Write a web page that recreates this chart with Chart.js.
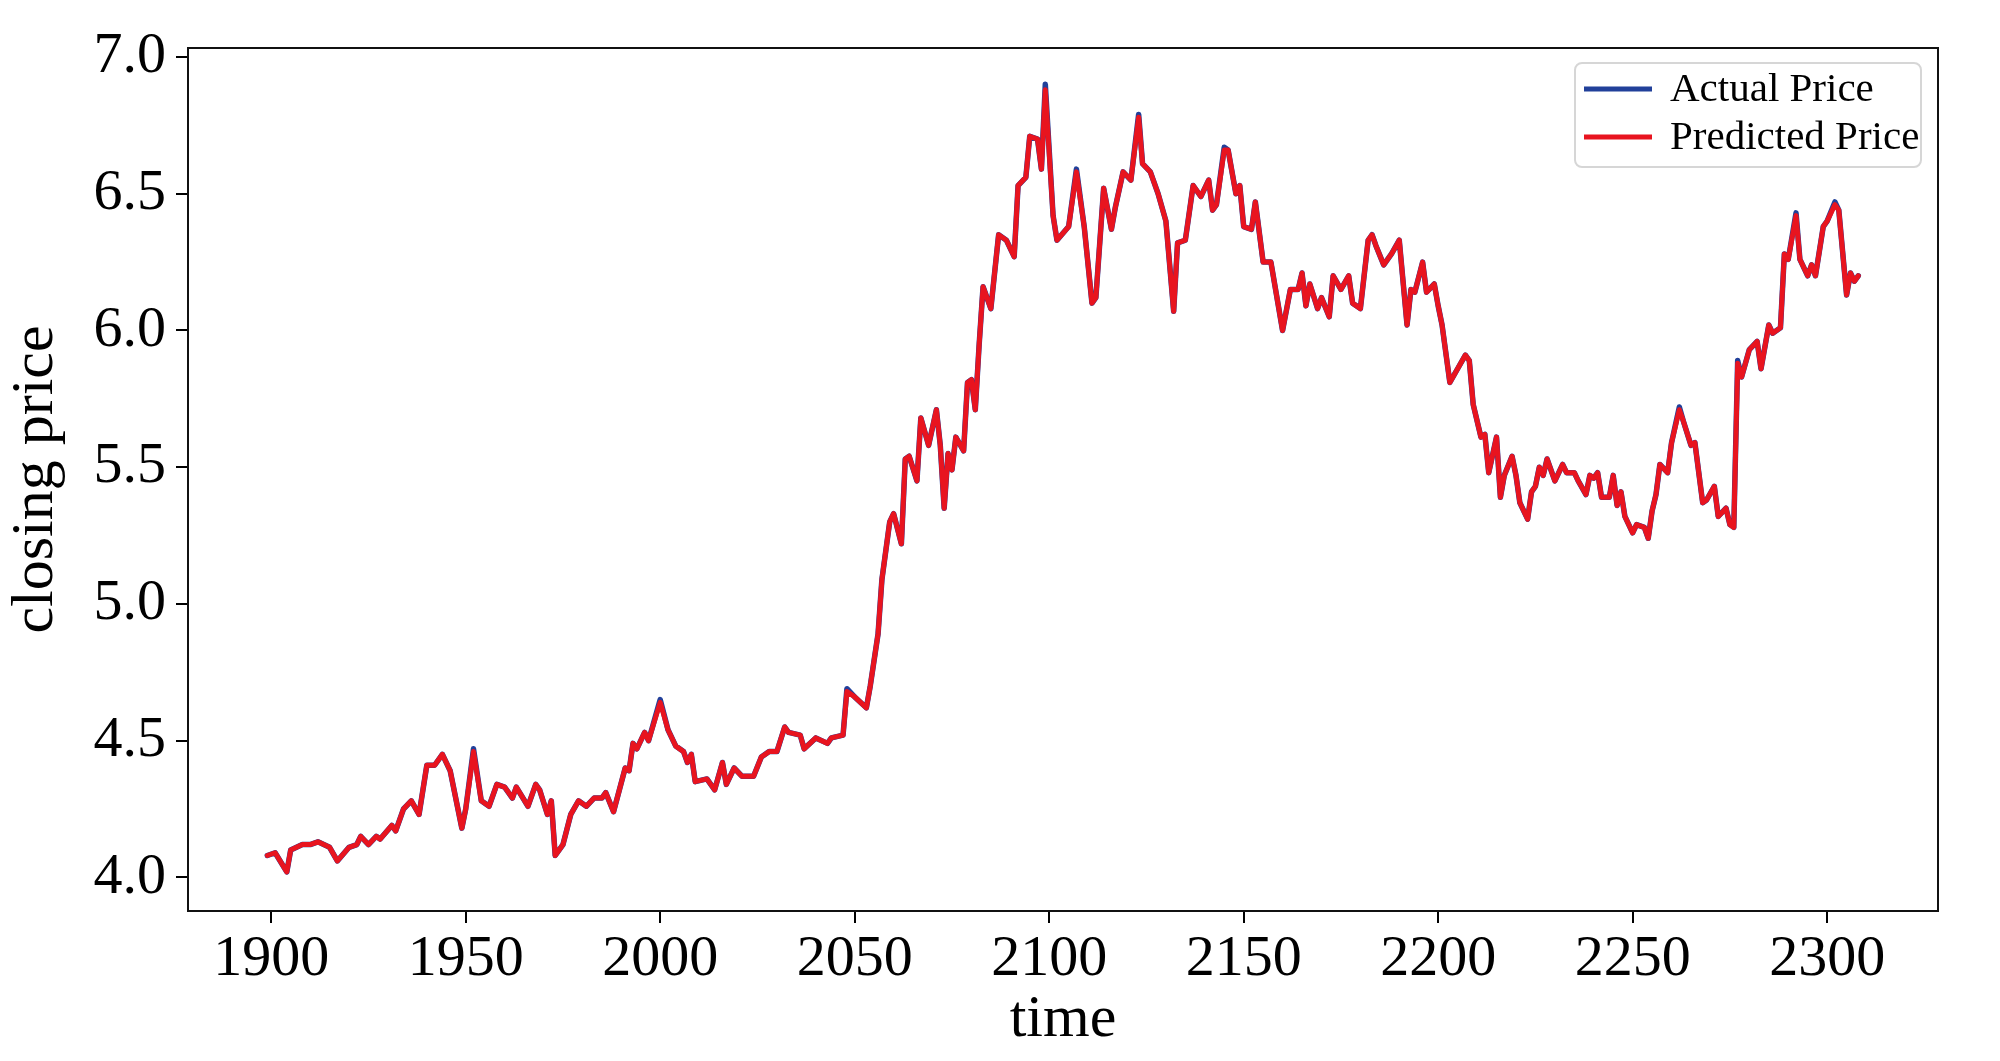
<!DOCTYPE html>
<html lang="en">
<head>
<meta charset="utf-8">
<title>Closing price</title>
<style>
  html, body { margin: 0; padding: 0; background: #fff; }
  #wrap { width: 2000px; height: 1061px; }
</style>
</head>
<body>
<div id="wrap"><canvas id="priceChart" width="2000" height="1061"></canvas></div>
<script src="https://cdn.jsdelivr.net/npm/chart.js"></script>
<script>
// values
const times = [
  1899, 1901, 1904, 1905, 1908, 1910, 1912, 1915, 1917, 1920, 1922, 1923, 1925, 1927, 1928, 1931, 1932, 1934, 1936, 1938,
  1940, 1942, 1944, 1946, 1949, 1950, 1952, 1954, 1956, 1958, 1960, 1962, 1963, 1966, 1968, 1969, 1971, 1972, 1973, 1975,
  1977, 1979, 1981, 1983, 1985, 1986, 1988, 1991, 1992, 1993, 1994, 1996, 1997, 2000, 2002, 2004, 2006, 2007, 2008, 2009,
  2012, 2014, 2016, 2017, 2019, 2021, 2024, 2026, 2028, 2030, 2032, 2033, 2036, 2037, 2040, 2043, 2044, 2047, 2048, 2050,
  2053, 2054, 2056, 2057, 2059, 2060, 2062, 2063, 2064, 2066, 2067, 2069, 2071, 2072, 2073, 2074, 2075, 2076, 2078, 2079,
  2080, 2081, 2082, 2083, 2085, 2087, 2089, 2091, 2092, 2094, 2095, 2097, 2098, 2099, 2101, 2102, 2105, 2107, 2109, 2111,
  2112, 2114, 2116, 2117, 2119, 2121, 2123, 2124, 2126, 2128, 2130, 2132, 2133, 2135, 2137, 2139, 2141, 2142, 2143, 2145,
  2146, 2148, 2149, 2150, 2152, 2153, 2155, 2157, 2160, 2162, 2164, 2165, 2166, 2167, 2169, 2170, 2172, 2173, 2175, 2177,
  2178, 2180, 2182, 2183, 2184, 2186, 2188, 2190, 2192, 2193, 2194, 2196, 2197, 2199, 2200, 2201, 2203, 2205, 2207, 2208,
  2209, 2211, 2212, 2213, 2215, 2216, 2217, 2219, 2220, 2221, 2223, 2224, 2225, 2226, 2227, 2228, 2230, 2232, 2233, 2235,
  2236, 2238, 2239, 2240, 2241, 2242, 2244, 2245, 2246, 2247, 2248, 2250, 2251, 2253, 2254, 2255, 2256, 2257, 2259, 2260,
  2262, 2263, 2265, 2266, 2268, 2269, 2271, 2272, 2274, 2275, 2276, 2277, 2278, 2280, 2282, 2283, 2285, 2286, 2288, 2289,
  2290, 2292, 2293, 2295, 2296, 2297, 2299, 2300, 2302, 2303, 2305, 2306, 2307, 2308
];

const actualPrice = [
  4.08, 4.09, 4.02, 4.10, 4.12, 4.12, 4.13, 4.11, 4.06, 4.11, 4.12, 4.15, 4.12, 4.15, 4.14, 4.19, 4.17, 4.25, 4.28, 4.23,
  4.41, 4.41, 4.45, 4.39, 4.18, 4.25, 4.47, 4.28, 4.26, 4.34, 4.33, 4.29, 4.33, 4.26, 4.34, 4.32, 4.23, 4.28, 4.08, 4.12,
  4.23, 4.28, 4.26, 4.29, 4.29, 4.31, 4.24, 4.40, 4.39, 4.49, 4.47, 4.53, 4.50, 4.65, 4.54, 4.48, 4.46, 4.42, 4.45, 4.35,
  4.36, 4.32, 4.42, 4.34, 4.40, 4.37, 4.37, 4.44, 4.46, 4.46, 4.55, 4.53, 4.52, 4.47, 4.51, 4.49, 4.51, 4.52, 4.69, 4.66,
  4.62, 4.70, 4.89, 5.09, 5.30, 5.33, 5.22, 5.53, 5.54, 5.45, 5.68, 5.58, 5.71, 5.58, 5.35, 5.55, 5.49, 5.61, 5.56, 5.81,
  5.82, 5.71, 5.95, 6.16, 6.08, 6.35, 6.33, 6.27, 6.53, 6.56, 6.71, 6.70, 6.59, 6.90, 6.42, 6.33, 6.38, 6.59, 6.38, 6.10,
  6.12, 6.52, 6.37, 6.45, 6.58, 6.55, 6.79, 6.61, 6.58, 6.50, 6.40, 6.07, 6.32, 6.33, 6.53, 6.49, 6.55, 6.44, 6.46, 6.67,
  6.66, 6.50, 6.53, 6.38, 6.37, 6.47, 6.25, 6.25, 6.00, 6.15, 6.15, 6.21, 6.09, 6.17, 6.08, 6.12, 6.05, 6.20, 6.15, 6.20,
  6.10, 6.08, 6.33, 6.35, 6.31, 6.24, 6.28, 6.33, 6.02, 6.15, 6.14, 6.25, 6.14, 6.17, 6.09, 6.02, 5.81, 5.86, 5.91, 5.89,
  5.73, 5.61, 5.62, 5.48, 5.61, 5.39, 5.47, 5.54, 5.47, 5.37, 5.31, 5.41, 5.43, 5.50, 5.47, 5.53, 5.45, 5.51, 5.48, 5.48,
  5.45, 5.40, 5.47, 5.46, 5.48, 5.39, 5.39, 5.47, 5.36, 5.41, 5.32, 5.26, 5.29, 5.28, 5.24, 5.34, 5.40, 5.51, 5.48, 5.59,
  5.72, 5.67, 5.58, 5.59, 5.37, 5.38, 5.43, 5.32, 5.35, 5.29, 5.28, 5.89, 5.83, 5.93, 5.96, 5.86, 6.02, 5.99, 6.01, 6.28,
  6.26, 6.43, 6.26, 6.20, 6.24, 6.20, 6.38, 6.40, 6.47, 6.44, 6.13, 6.21, 6.18, 6.20
];

// the predicted line lies on top of the actual one almost everywhere
const predictedPrice = [
  4.08, 4.09, 4.02, 4.10, 4.12, 4.12, 4.13, 4.11, 4.06, 4.11, 4.12, 4.15, 4.12, 4.15, 4.14, 4.19, 4.17, 4.25, 4.28, 4.23,
  4.41, 4.41, 4.45, 4.39, 4.18, 4.25, 4.46, 4.28, 4.26, 4.34, 4.33, 4.29, 4.33, 4.26, 4.34, 4.32, 4.23, 4.28, 4.08, 4.12,
  4.23, 4.28, 4.26, 4.29, 4.29, 4.31, 4.24, 4.40, 4.39, 4.49, 4.47, 4.53, 4.50, 4.64, 4.54, 4.48, 4.46, 4.42, 4.45, 4.35,
  4.36, 4.32, 4.42, 4.34, 4.40, 4.37, 4.37, 4.44, 4.46, 4.46, 4.55, 4.53, 4.52, 4.47, 4.51, 4.49, 4.51, 4.52, 4.68, 4.66,
  4.62, 4.70, 4.89, 5.09, 5.30, 5.33, 5.22, 5.53, 5.54, 5.45, 5.68, 5.58, 5.71, 5.58, 5.35, 5.55, 5.49, 5.61, 5.56, 5.81,
  5.82, 5.71, 5.95, 6.16, 6.08, 6.35, 6.33, 6.27, 6.53, 6.56, 6.71, 6.70, 6.59, 6.88, 6.42, 6.33, 6.38, 6.58, 6.38, 6.10,
  6.12, 6.52, 6.37, 6.45, 6.58, 6.55, 6.78, 6.61, 6.58, 6.50, 6.40, 6.07, 6.32, 6.33, 6.53, 6.49, 6.55, 6.44, 6.46, 6.66,
  6.66, 6.50, 6.53, 6.38, 6.37, 6.47, 6.25, 6.25, 6.00, 6.15, 6.15, 6.21, 6.09, 6.17, 6.08, 6.12, 6.05, 6.20, 6.15, 6.20,
  6.10, 6.08, 6.33, 6.35, 6.31, 6.24, 6.28, 6.33, 6.02, 6.15, 6.14, 6.25, 6.14, 6.17, 6.09, 6.02, 5.81, 5.86, 5.91, 5.89,
  5.73, 5.61, 5.62, 5.48, 5.61, 5.39, 5.47, 5.54, 5.47, 5.37, 5.31, 5.41, 5.43, 5.50, 5.47, 5.53, 5.45, 5.51, 5.48, 5.48,
  5.45, 5.40, 5.47, 5.46, 5.48, 5.39, 5.39, 5.47, 5.36, 5.41, 5.32, 5.26, 5.29, 5.28, 5.24, 5.34, 5.40, 5.51, 5.48, 5.59,
  5.71, 5.67, 5.58, 5.59, 5.37, 5.38, 5.43, 5.32, 5.35, 5.29, 5.28, 5.88, 5.83, 5.93, 5.96, 5.86, 6.02, 5.99, 6.01, 6.28,
  6.26, 6.42, 6.26, 6.20, 6.24, 6.20, 6.38, 6.40, 6.46, 6.44, 6.13, 6.21, 6.18, 6.20
];

const xTicks = [1900, 1950, 2000, 2050, 2100, 2150, 2200, 2250, 2300];
const yTicks = [4.0, 4.5, 5.0, 5.5, 6.0, 6.5, 7.0];
const seriesNames = ['Actual Price', 'Predicted Price'];
const seriesColors = ['#21409a', '#e8141f'];

const serif = 'Liberation Serif';

function points(vals) {
  var a = [];
  for (var i = 0; i < times.length; i++)
    a.push({ x: times[i], y: vals[i] });
  return a;
}

// box around the plot area (axes only draw left and bottom)
const frame = {
  id: 'frame',
  beforeDatasetsDraw(chart) {
    const a = chart.chartArea, c = chart.ctx;
    c.save();
    c.strokeStyle = '#111';
    c.lineWidth = 2;
    c.strokeRect(a.left, a.top, a.right - a.left, a.bottom - a.top);
    c.restore();
  }
};

// legend in the upper right corner, inside the plot
const cornerLegend = {
  id: 'cornerLegend',
  afterDatasetsDraw(chart) {
    const c = chart.ctx;
    const x0 = 1575, y0 = 63, w = 346, h = 104;
    c.save();
    c.fillStyle = 'rgba(255,255,255,0.85)';
    c.strokeStyle = '#d6d6d6';
    c.lineWidth = 2;
    c.beginPath();
    c.roundRect(x0, y0, w, h, 7);
    c.fill();
    c.stroke();
    c.font = '41px "' + serif + '"';
    c.textBaseline = 'middle';
    c.textAlign = 'left';
    for (var i = 0; i < seriesNames.length; i++) {
      const y = 89 + i * 48;
      c.strokeStyle = seriesColors[i];
      c.lineWidth = 5;
      c.beginPath();
      c.moveTo(1584, y);
      c.lineTo(1652, y);
      c.stroke();
      c.fillStyle = '#000';
      c.fillText(seriesNames[i], 1670, y + 1);
    }
    c.restore();
  }
};

new Chart(document.getElementById('priceChart'), {
  type: 'line',
  data: {
    datasets: [
      {
        label: seriesNames[0],
        data: points(actualPrice),
        borderColor: seriesColors[0],
        borderWidth: 5.5,
        borderJoinStyle: 'round',
        borderCapStyle: 'round',
        pointRadius: 0,
        tension: 0,
        order: 2
      },
      {
        label: seriesNames[1],
        data: points(predictedPrice),
        borderColor: seriesColors[1],
        borderWidth: 5,
        borderJoinStyle: 'round',
        borderCapStyle: 'round',
        pointRadius: 0,
        tension: 0,
        order: 1
      }
    ]
  },
  options: {
    responsive: false,
    animation: false,
    layout: { padding: { top: 48, right: 62, left: 0, bottom: 0 } },
    plugins: {
      legend: { display: false },
      tooltip: { enabled: false }
    },
    scales: {
      x: {
        type: 'linear',
        min: 1878.6,
        max: 2328.5,
        afterBuildTicks: function(scale) { scale.ticks = xTicks.map(v => ({ value: v })); },
        afterFit: function(scale) { scale.height = 150; },
        grid: { drawOnChartArea: false, color: '#000', lineWidth: 2, tickLength: 12 },
        border: { display: false },
        ticks: {
          color: '#000',
          padding: 2,
          maxRotation: 0,
          font: { family: serif, size: 58 },
          callback: v => String(v)
        },
        title: {
          display: true,
          text: 'time',
          color: '#000',
          font: { family: serif, size: 60 },
          padding: { top: 0, bottom: 5 }
        }
      },
      y: {
        min: 3.877,
        max: 7.033,
        afterBuildTicks: function(scale) { scale.ticks = yTicks.map(v => ({ value: v })); },
        afterFit: function(scale) { scale.width = 188; },
        grid: { drawOnChartArea: false, color: '#000', lineWidth: 2, tickLength: 12 },
        border: { display: false },
        ticks: {
          color: '#000',
          padding: 10,
          font: { family: serif, size: 58 },
          callback: v => Number(v).toFixed(1)
        },
        title: {
          display: true,
          text: 'closing price',
          color: '#000',
          font: { family: serif, size: 60 },
          padding: { top: 0, bottom: 0 }
        }
      }
    }
  },
  plugins: [frame, cornerLegend]
});
</script>
</body>
</html>
